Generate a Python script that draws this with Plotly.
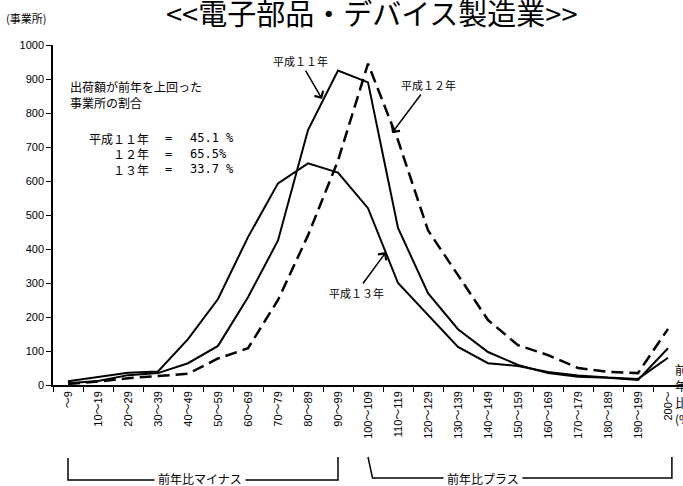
import plotly.graph_objects as go

# 前年比の階級
categories = ["～9", "10～19", "20～29", "30～39", "40～49", "50～59", "60～69",
              "70～79", "80～89", "90～99", "100～109", "110～119", "120～129",
              "130～139", "140～149", "150～159", "160～169", "170～179",
              "180～189", "190～199", "200～"]

# 事業所数
h11 = [5, 12, 29, 35, 64, 115, 258, 425, 750, 925, 890, 462, 270, 164, 97, 59, 35, 24, 21, 15, 108]
h12 = [3, 10, 20, 27, 33, 78, 108, 250, 440, 660, 945, 720, 455, 323, 191, 117, 88, 50, 39, 35, 165]
h13 = [11, 24, 36, 40, 135, 253, 435, 593, 652, 625, 520, 300, 205, 112, 64, 56, 38, 28, 22, 18, 80]

ratio_years = ["平成１１年", "１２年", "１３年"]
ratio_vals = ["45.1 %", "65.5%", "33.7 %"]
unit_label = ["前", "年", "比", "(%)"]

JP = "Noto Sans CJK JP"
NUM = "Liberation Sans, Noto Sans CJK JP"

W, H = 683, 486
L, R, T, B = 53, 0, 45, 101


# page pixel -> paper coordinate (the plot area is 53..683 x 45..385)
def px(p):
    return (p - L) / (W - L - R)


def py(p):
    return (H - B - p) / (H - B - T)


fig = go.Figure()
fig.add_trace(go.Scatter(x=categories, y=h11, mode="lines",
                         line=dict(color="black", width=2), name="平成11年"))
fig.add_trace(go.Scatter(x=categories, y=h12, mode="lines",
                         line=dict(color="black", width=2.5, dash="12px,6px"), name="平成12年"))
fig.add_trace(go.Scatter(x=categories, y=h13, mode="lines",
                         line=dict(color="black", width=2), name="平成13年"))


def note(text, x, y, xa="center", size=12, family=JP, **kw):
    return dict(text=text, x=px(x), y=py(y), xref="paper", yref="paper",
                xanchor=xa, yanchor="middle", showarrow=False,
                font=dict(family=family, size=size, color="black"), **kw)


ann = []
ann.append(note("<<電子部品・デバイス製造業>>", 372, 12, size=29))
ann.append(note("(事業所)", 4, 18, xa="left", size=11))
ann.append(note("出荷額が前年を上回った<br>事業所の割合", 68, 94, xa="left", align="left"))
for i, (yr, v) in enumerate(zip(ratio_years, ratio_vals)):
    yy = 138 + i * 15.5
    ann.append(note(yr, 151, yy, xa="right"))
    ann.append(note("=", 168, yy, family="DejaVu Sans Mono"))
    ann.append(note(v, 188, yy, xa="left", family="DejaVu Sans Mono"))

# 矢印付きラベル
arrow = dict(showarrow=True, arrowhead=4, arrowsize=1.3, arrowwidth=1.5, arrowcolor="black",
             font=dict(family=JP, size=11, color="black"))
ann.append(dict(text="平成１１年", x=8.47, y=841, ax=-22, ay=-38, **arrow))
ann.append(dict(text="平成１２年", x=10.8, y=741, ax=36, ay=-48, **arrow))
ann.append(dict(text="平成１３年", x=10.6, y=391, ax=-30, ay=41, **arrow))

# 括弧の文字
ann.append(note("前年比マイナス", 200, 479, bgcolor="white", borderpad=3))
ann.append(note("前年比プラス", 483, 478, bgcolor="white", borderpad=3))
# 右端で切れている軸の単位
for i, ch in enumerate(unit_label):
    ann.append(note(ch, 673, 369 + i * 16.5, xa="left"))

shapes = [
    dict(type="path", xref="x", yref="paper",
         path=f"M 0,{py(458)} L 0,{py(480)} L 9,{py(480)} L 9,{py(457)}",
         line=dict(color="black", width=1.5)),
    dict(type="path", xref="x", yref="paper",
         path=f"M 10,{py(457)} L 10.15,{py(478)} L 20.13,{py(478)} L 20.13,{py(457)}",
         line=dict(color="black", width=1.5)),
]

fig.update_layout(
    width=W, height=H,
    margin=dict(l=L, r=R, t=T, b=B),
    plot_bgcolor="white", paper_bgcolor="white",
    showlegend=False,
    annotations=ann,
    shapes=shapes,
    xaxis=dict(type="category", range=[-0.5, 20.5], tickangle=-90,
               ticks="outside", tickson="boundaries", ticklen=5, tickcolor="black",
               showline=True, linecolor="black", linewidth=1.5, showgrid=False,
               tickfont=dict(family=NUM, size=11, color="black")),
    yaxis=dict(range=[0, 1000], dtick=100, ticks="outside", ticklen=5, tickcolor="black",
               showline=True, linecolor="black", linewidth=1.5, showgrid=False, zeroline=False,
               tickfont=dict(family=NUM, size=11, color="black")),
)

# the page's default 8px body margin would shift the whole figure
fig.write_html("out.html", config={"displayModeBar": False},
               post_script="document.body.style.margin='0px';")
